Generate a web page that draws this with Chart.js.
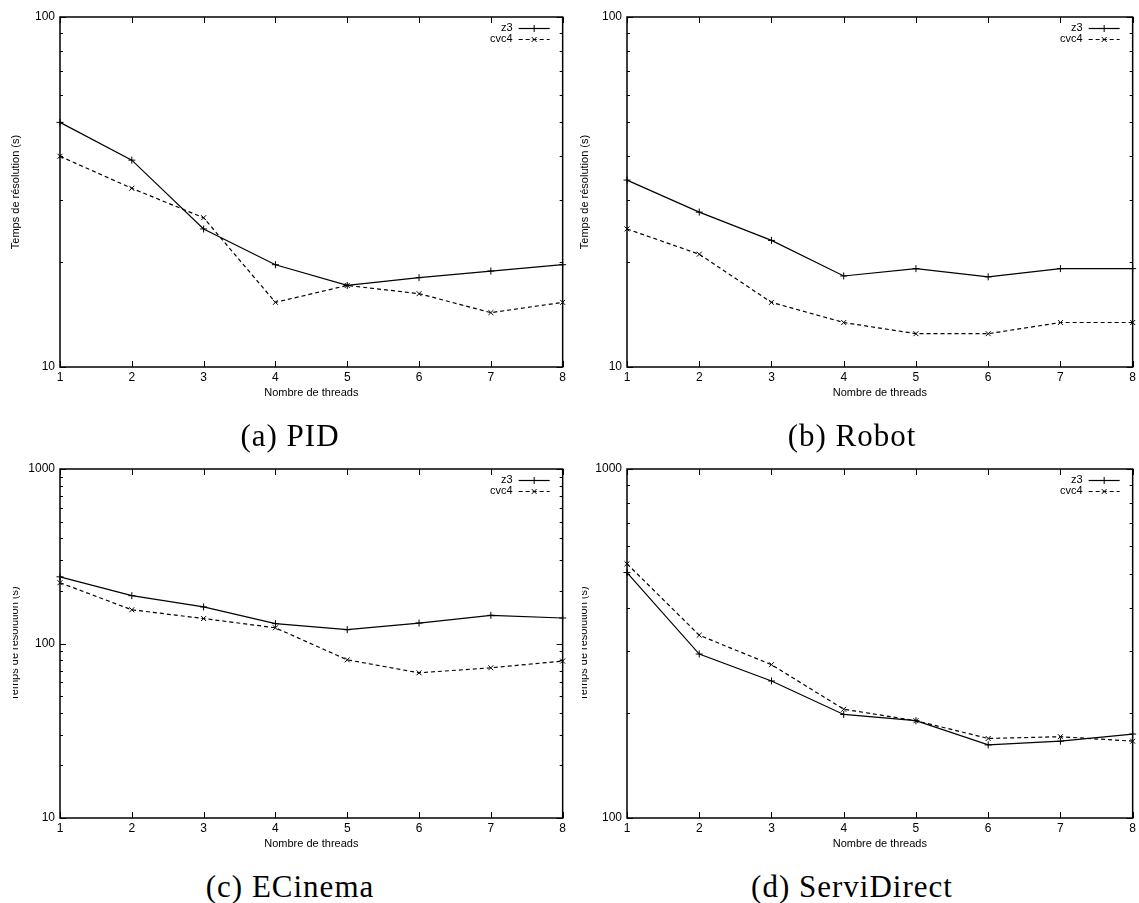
<!DOCTYPE html>
<html>
<head>
<meta charset="utf-8">
<script src="https://cdn.jsdelivr.net/npm/chart.js@4/dist/chart.umd.min.js"></script>
<style>
  body { margin: 0; background: #fff; width: 1139px; height: 903px; position: relative; overflow: hidden; }
  canvas { position: absolute; }
  .caption {
    position: absolute;
    transform: translate(-50%, -50%);
    font-family: "Liberation Serif", "DejaVu Serif", serif;
    font-size: 31px;
    letter-spacing: 1px;
    color: #000;
    white-space: nowrap;
  }
</style>
</head>
<body>
<canvas id="pid" width="569" height="400" style="left:0;top:0"></canvas>
<canvas id="robot" width="570" height="400" style="left:569px;top:0"></canvas>
<canvas id="ecinema" width="569" height="401" style="left:0;top:450px"></canvas>
<canvas id="servidirect" width="570" height="401" style="left:569px;top:450px"></canvas>

<div class="caption" style="left:290px;top:436px">(a) PID</div>
<div class="caption" style="left:852px;top:436px">(b) Robot</div>
<div class="caption" style="left:290px;top:887px">(c) ECinema</div>
<div class="caption" style="left:852px;top:887px">(d) ServiDirect</div>

<script>
// number of threads on the x axis
var threads = ['1', '2', '3', '4', '5', '6', '7', '8'];

// solving time in seconds, per benchmark and solver
var pidZ3 = [50, 39, 24.8, 19.6, 17.1, 18.0, 18.8, 19.6];
var pidCvc4 = [40, 32.4, 26.7, 15.3, 17.1, 16.2, 14.3, 15.3];
var robotZ3 = [34.2, 27.7, 23.0, 18.2, 19.1, 18.1, 19.1, 19.1];
var robotCvc4 = [24.8, 21.0, 15.3, 13.4, 12.45, 12.45, 13.4, 13.4];
var ecinemaZ3 = [241, 188, 162, 130, 120, 131, 145, 140];
var ecinemaCvc4 = [223, 156, 139, 123, 80.6, 67.9, 72.6, 79.3];
var serviZ3 = [505, 295, 247, 198, 190, 162, 166, 174];
var serviCvc4 = [535, 334, 275, 205, 190, 169, 171, 166];

// labelled decades on each log axis
var pidTicks = [10, 100];
var robotTicks = [10, 100];
var ecinemaTicks = [10, 100, 1000];
var serviTicks = [100, 1000];

var xTitle = 'Nombre de threads';
var yTitle = 'Temps de résolution (s)';

var font = { family: '"Liberation Sans", Arial, sans-serif', size: 11 };
var tickFont = { family: '"Liberation Sans", Arial, sans-serif', size: 12 };

// gnuplot style border: inward ticks on all four sides, key in the top right corner
var gnuFrame = {
    id: 'gnuFrame',
    afterDraw: function (chart, args, o) {
        var ctx = chart.ctx;
        var a = chart.chartArea;
        var x = chart.scales.x;
        var y = chart.scales.y;

        ctx.save();
        ctx.strokeStyle = '#000';
        ctx.lineWidth = 1;
        ctx.beginPath();
        x.ticks.forEach(function (t, i) {
            var px = Math.round(x.getPixelForTick(i)) + 0.5;
            ctx.moveTo(px, a.bottom); ctx.lineTo(px, a.bottom - 6);
            ctx.moveTo(px, a.top); ctx.lineTo(px, a.top + 6);
        });
        var lo = Math.log10(y.min), hi = Math.log10(y.max);
        for (var d = lo; d <= hi; d++) {
            for (var k = 1; k <= 9; k++) {
                var v = k * Math.pow(10, d);
                if (v < y.min || v > y.max) continue;
                var py = Math.round(y.getPixelForValue(v)) + 0.5;
                var len = k === 1 ? 6 : 3;
                ctx.moveTo(a.left, py); ctx.lineTo(a.left + len, py);
                ctx.moveTo(a.right, py); ctx.lineTo(a.right - len, py);
            }
        }
        ctx.stroke();

        ctx.lineWidth = 1.5;
        ctx.strokeRect(a.left, a.top, a.right - a.left, a.bottom - a.top);

        // key
        ctx.font = font.size + 'px ' + font.family;
        ctx.fillStyle = '#000';
        ctx.textAlign = 'right';
        ctx.textBaseline = 'middle';
        chart.data.datasets.forEach(function (ds, i) {
            var ry = a.top + 11 + i * 11;
            var x0 = a.right - 44, x1 = a.right - 13;
            ctx.fillText(ds.label, x0 - 6, ry);
            ctx.lineWidth = ds.borderWidth;
            ctx.setLineDash(ds.borderDash || []);
            ctx.beginPath();
            ctx.moveTo(x0, ry + 0.5); ctx.lineTo(x1, ry + 0.5);
            ctx.stroke();
            ctx.setLineDash([]);
            ctx.lineWidth = ds.pointBorderWidth;
            Chart.helpers.drawPoint(ctx, {
                pointStyle: ds.pointStyle, radius: ds.pointRadius,
                borderWidth: ds.pointBorderWidth, rotation: 0
            }, (x0 + x1) / 2, ry + 0.5);
        });

        // y axis title, cut on the left in the lower figures
        ctx.save();
        if (o.clipX) {
            ctx.beginPath();
            ctx.rect(o.clipX, 0, chart.width, chart.height);
            ctx.clip();
        }
        ctx.translate(o.titleX, (a.top + a.bottom) / 2);
        ctx.rotate(-Math.PI / 2);
        ctx.textAlign = 'center';
        ctx.fillText(yTitle, 0, 0);
        ctx.restore();

        ctx.restore();
    }
};

function makePanel(id, z3, cvc4, decades, p) {
    var ctx = document.getElementById(id).getContext('2d');
    return new Chart(ctx, {
        type: 'line',
        data: {
            labels: threads,
            datasets: [{
                label: 'z3',
                data: z3,
                borderColor: '#000',
                borderWidth: 1.2,
                pointStyle: 'cross',
                pointRadius: 3.5,
                pointBorderWidth: 1,
                pointBorderColor: '#000',
                fill: false,
                tension: 0,
            }, {
                label: 'cvc4',
                data: cvc4,
                borderColor: '#000',
                borderWidth: 1.2,
                borderDash: [4, 3],
                pointStyle: 'crossRot',
                pointRadius: 3.5,
                pointBorderWidth: 1,
                pointBorderColor: '#000',
                fill: false,
                tension: 0,
            }],
        },
        options: {
            responsive: false,
            animation: false,
            events: [],
            layout: { padding: { top: p.top, right: p.right, left: 0, bottom: 0 } },
            plugins: {
                legend: { display: false },
                tooltip: { enabled: false },
                gnuFrame: { titleX: p.titleX, clipX: p.clipX },
            },
            scales: {
                x: {
                    grid: { display: false, drawTicks: false },
                    border: { display: false },
                    ticks: { font: tickFont, color: '#000', padding: 3, maxRotation: 0, autoSkip: false },
                    title: { display: true, text: xTitle, font: font, color: '#000', padding: 0 },
                    afterFit: function (s) { s.height = 33; },
                },
                y: {
                    type: 'logarithmic',
                    min: decades[0],
                    max: decades[decades.length - 1],
                    grid: { display: false, drawTicks: false },
                    border: { display: false },
                    ticks: {
                        font: tickFont, color: '#000', padding: 5,
                        callback: function (v) { return String(v); },
                    },
                    afterBuildTicks: function (s) {
                        s.ticks = decades.map(function (v) { return { value: v }; });
                    },
                    afterFit: function (s) { s.width = p.axisW; },
                },
            },
        },
        plugins: [gnuFrame],
    });
}

makePanel('pid', pidZ3, pidCvc4, pidTicks, { top: 17, right: 2, axisW: 60, titleX: 16 });
makePanel('robot', robotZ3, robotCvc4, robotTicks, { top: 17, right: 5, axisW: 58, titleX: 16 });
makePanel('ecinema', ecinemaZ3, ecinemaCvc4, ecinemaTicks, { top: 19, right: 2, axisW: 60, titleX: 15, clipX: 13 });
makePanel('servidirect', serviZ3, serviCvc4, serviTicks, { top: 19, right: 5, axisW: 58, titleX: 15, clipX: 13 });
</script>
</body>
</html>
